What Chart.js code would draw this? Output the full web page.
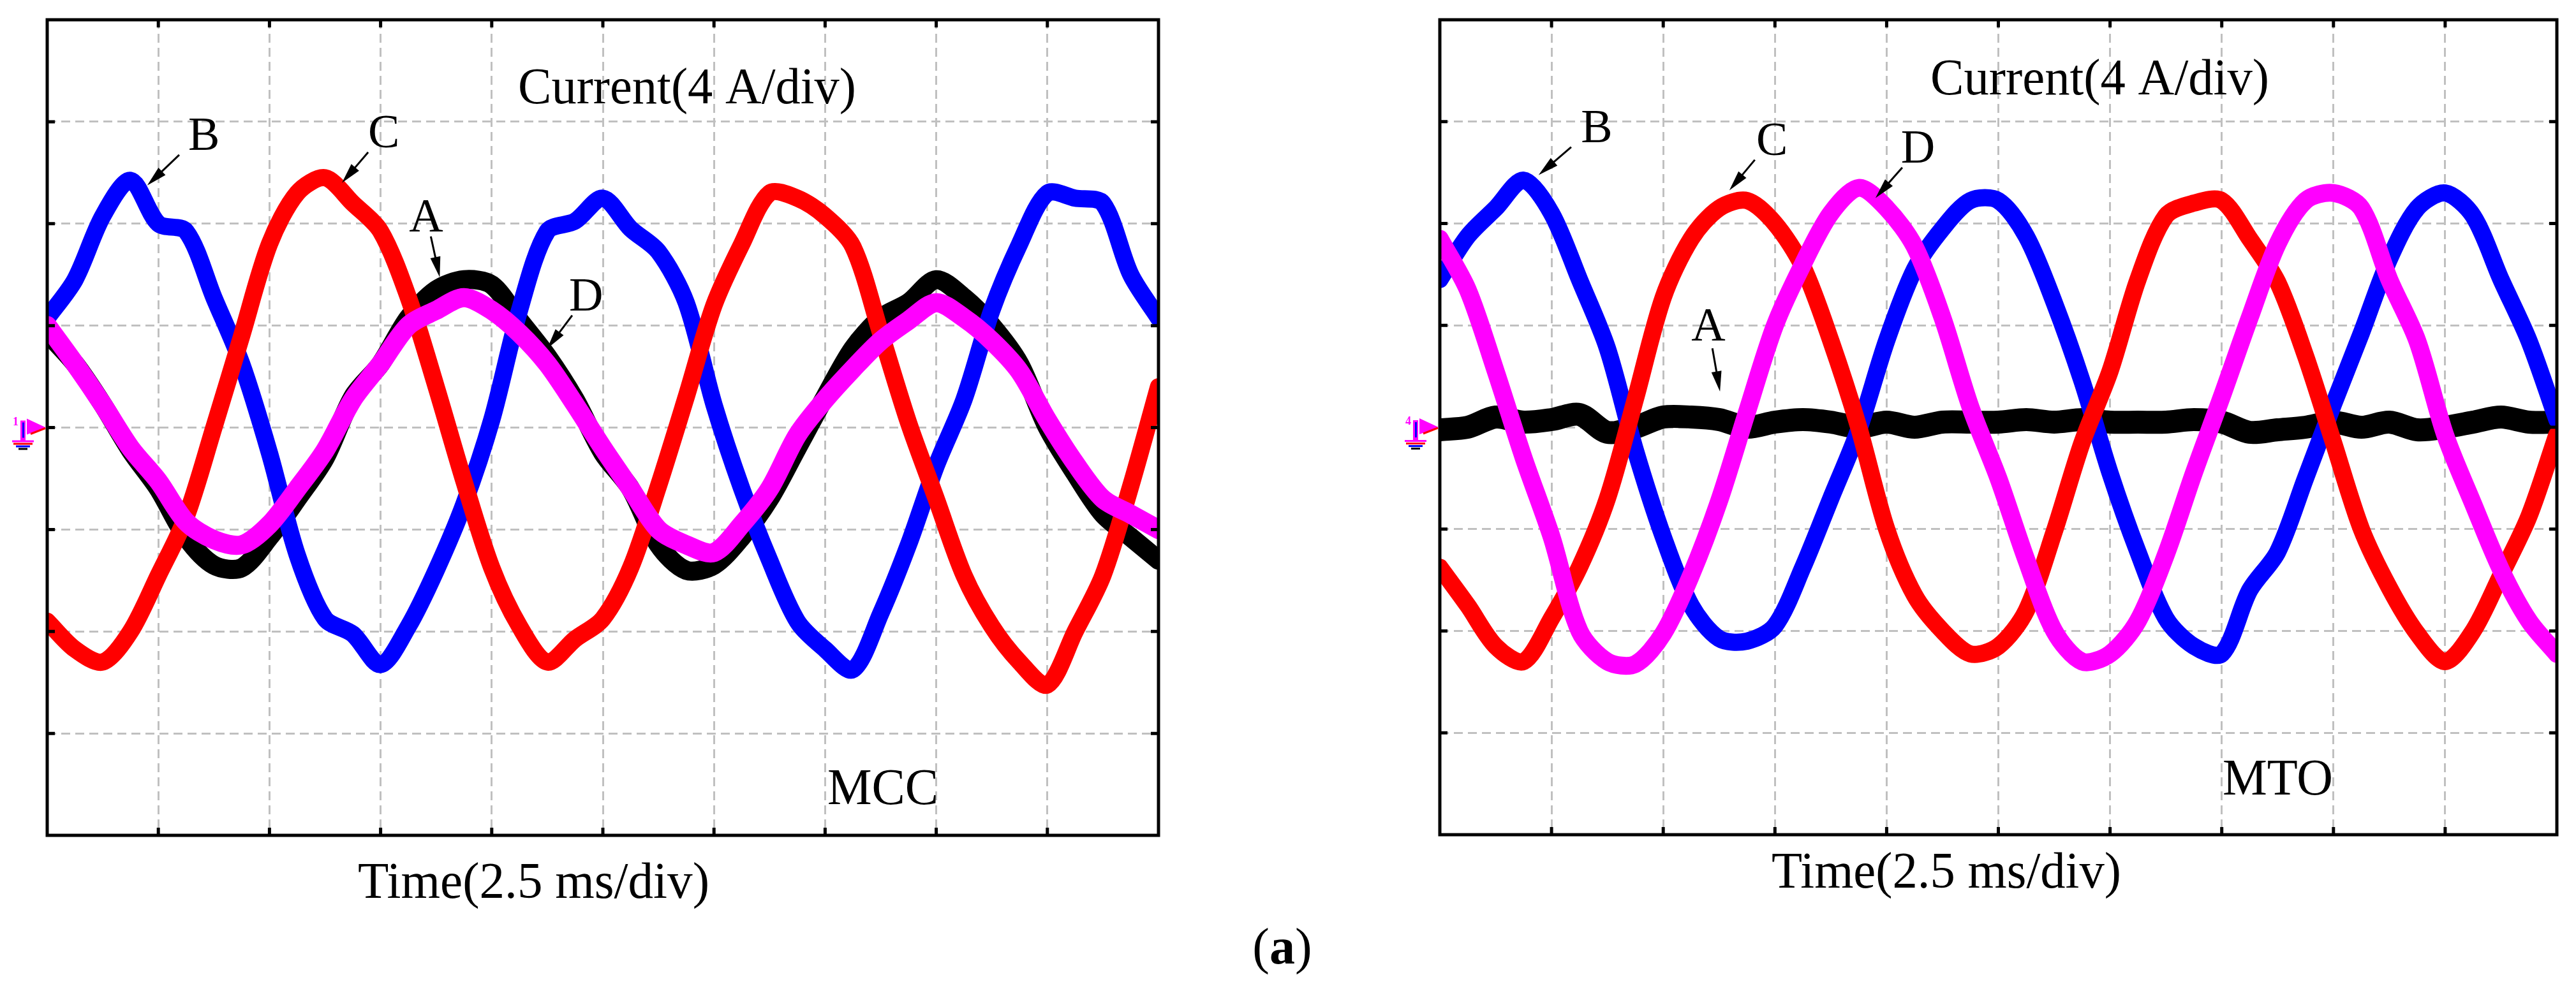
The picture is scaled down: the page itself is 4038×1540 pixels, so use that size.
<!DOCTYPE html>
<html>
<head>
<meta charset="utf-8">
<script src="https://cdn.jsdelivr.net/npm/chart.js@4.4.1/dist/chart.umd.min.js"></script>
<style>
  html, body { margin: 0; padding: 0; background: #fff; }
  #wrap { position: relative; width: 4038px; height: 1540px; overflow: hidden; background: #fff; }
  #wrap canvas { position: absolute; left: 0; top: 0; }
  #caption { position: absolute; left: 1910px; width: 200px; top: 1444px; text-align: center;
             font: 80px "Liberation Serif", "Times New Roman", serif; line-height: 1; color: #000; }
</style>
</head>
<body>
<div id="wrap">
  <canvas id="mccChart" width="4038" height="1540"></canvas>
  <canvas id="mtoChart" width="4038" height="1540"></canvas>
  <div id="caption">(<b>a</b>)</div>
</div>
<script>
"use strict";

// time axis, ms (2.5 ms/div, 10 div)
const timeMs = [0, 0.625, 1.25, 1.875, 2.5, 3.125, 3.75, 4.375, 5, 5.625, 6.25, 6.875, 7.5,
    8.125, 8.75, 9.375, 10, 10.625, 11.25, 11.875, 12.5, 13.125, 13.75, 14.375, 15, 15.625,
    16.25, 16.875, 17.5, 18.125, 18.75, 19.375, 20, 20.625, 21.25, 21.875, 22.5, 23.125,
    23.75, 24.375, 25];

// current ticks, A (4 A/div)
const currentTicks = [-16, -12, -8, -4, 0, 4, 8, 12, 16];

// MCC phase currents, A
const mccA = [3.7, 2.5, 0.9, -0.9, -2.4, -4.3, -5.4, -5.5, -4.3, -2.8, -1.2, 1.2, 2.5, 4.3, 5.4,
    5.8, 5.6, 4.2, 2.8, 1.1, -1.0, -2.4, -4.6, -5.6, -5.4, -4.3, -2.8, -0.8, 1.2, 3.1, 4.3, 4.9,
    5.8, 5.1, 4.0, 2.5, 0.0, -1.8, -3.4, -4.3, -5.2];
const mccB = [4.3, 5.8, 8.3, 9.7, 8.0, 7.7, 5.1, 2.5, -1.0, -5.0, -7.5, -8.1, -9.3, -7.8, -5.6,
    -3.0, 0.3, 4.6, 7.7, 8.1, 9.0, 7.8, 6.9, 4.9, 0.9, -2.4, -5.2, -7.6, -8.7, -9.5, -7.3, -4.6,
    -1.5, 1.1, 4.6, 7.2, 9.2, 9.0, 8.8, 6.0, 4.3];
const mccC = [-7.6, -8.7, -9.2, -8.0, -5.8, -3.5, 0.0, 3.6, 7.2, 9.2, 9.8, 8.8, 7.7, 5.1, 1.6,
    -2.1, -5.5, -7.8, -9.2, -8.3, -7.5, -5.5, -2.3, 1.2, 4.8, 7.2, 9.2, 9.0, 8.3, 7.1, 3.7, 0.2,
    -2.8, -5.8, -7.8, -9.2, -10.1, -8.0, -5.8, -2.3, 1.6];
const mccD = [4.0, 2.5, 0.9, -0.8, -2.1, -3.7, -4.4, -4.6, -3.8, -2.4, -0.9, 1.1, 2.5, 4.0, 4.6,
    5.1, 4.6, 3.7, 2.5, 0.9, -0.8, -2.4, -4.0, -4.6, -4.9, -3.8, -2.4, -0.3, 1.1, 2.3, 3.4, 4.2,
    4.9, 4.3, 3.4, 2.2, 0.3, -1.4, -2.8, -3.4, -4.0];

// MTO phase currents, A
const mtoA = [-0.1, 0.0, 0.4, 0.2, 0.3, 0.5, -0.2, 0.0, 0.4, 0.4, 0.3, 0.0, 0.2, 0.3, 0.2, 0.0,
    0.2, 0.0, 0.2, 0.2, 0.2, 0.3, 0.2, 0.3, 0.2, 0.2, 0.2, 0.3, 0.2, -0.2, -0.1, 0.0, 0.2, 0.0,
    0.2, -0.1, 0.0, 0.2, 0.4, 0.2, 0.2];
const mtoB = [5.8, 7.5, 8.6, 9.7, 8.4, 5.8, 3.1, -0.9, -4.3, -7.0, -8.3, -8.4, -7.8, -5.5, -2.8,
    -0.1, 3.4, 6.2, 7.8, 8.9, 8.9, 7.5, 4.9, 1.8, -1.8, -4.9, -7.5, -8.6, -8.9, -6.4, -4.9, -2.0,
    0.9, 3.7, 6.6, 8.6, 9.2, 8.3, 5.8, 3.4, 0.3];
const mtoC = [-5.5, -7.0, -8.6, -9.2, -7.5, -5.5, -2.8, 1.1, 5.1, 7.4, 8.6, 8.9, 8.0, 6.3, 3.4,
    0.0, -4.0, -6.6, -8.0, -8.9, -8.6, -7.2, -4.1, -0.6, 2.2, 5.8, 8.3, 8.8, 8.9, 7.4, 5.7, 2.8,
    -0.6, -4.0, -6.3, -8.1, -9.2, -8.0, -5.8, -3.5, -0.3];
const mtoD = [7.4, 5.4, 2.2, -1.2, -4.3, -8.0, -9.2, -9.3, -8.1, -5.8, -2.9, 0.6, 4.0, 6.4, 8.4,
    9.4, 8.6, 7.1, 4.3, 0.8, -2.0, -5.2, -8.0, -9.2, -8.9, -7.6, -5.0, -1.8, 1.2, 4.3, 7.2, 8.9,
    9.2, 8.6, 5.8, 3.4, -0.3, -3.0, -5.6, -7.6, -8.9];

const SERIF = '"Liberation Serif", "Times New Roman", serif';

const toPoints = (vals) => vals.map((v, i) => ({x: timeMs[i], y: v}));

const trace = (label, vals, color, width, order) => ({
    label: label,
    data: toPoints(vals),
    borderColor: color,
    backgroundColor: color,
    borderWidth: width,
    pointRadius: 0,
    tension: 0.3,
    borderJoinStyle: 'round',
    borderCapStyle: 'round',
    clip: 0,
    order: order
});

const drawArrow = (ctx, x1, y1, x2, y2) => {
    const ang = Math.atan2(y2 - y1, x2 - x1);
    const len = 32, half = 8;
    ctx.beginPath();
    ctx.moveTo(x1, y1);
    ctx.lineTo(x2 - Math.cos(ang) * len * 0.8, y2 - Math.sin(ang) * len * 0.8);
    ctx.stroke();
    ctx.beginPath();
    ctx.moveTo(x2, y2);
    ctx.lineTo(x2 - Math.cos(ang) * len - Math.sin(ang) * half, y2 - Math.sin(ang) * len + Math.cos(ang) * half);
    ctx.lineTo(x2 - Math.cos(ang) * len + Math.sin(ang) * half, y2 - Math.sin(ang) * len - Math.cos(ang) * half);
    ctx.closePath();
    ctx.fill();
};

// frame, inner tick marks, ground marker, labels and arrows
const scopeDecor = {
    id: 'scopeDecor',
    afterDatasetsDraw(chart, args, opts) {
        const {ctx, chartArea: a, scales: {x, y}} = chart;
        ctx.save();
        ctx.strokeStyle = '#000';
        ctx.fillStyle = '#000';
        ctx.lineWidth = 5;
        ctx.lineCap = 'butt';

        ctx.beginPath();
        x.ticks.forEach(t => {
            const px = x.getPixelForValue(t.value);
            if (px <= a.left + 2 || px >= a.right - 2) {
                return;
            }
            ctx.moveTo(px, a.top); ctx.lineTo(px, a.top + 12);
            ctx.moveTo(px, a.bottom); ctx.lineTo(px, a.bottom - 12);
        });
        y.ticks.forEach(t => {
            const py = y.getPixelForValue(t.value);
            if (py <= a.top + 2 || py >= a.bottom - 2) {
                return;
            }
            ctx.moveTo(a.left, py); ctx.lineTo(a.left + 12, py);
            ctx.moveTo(a.right, py); ctx.lineTo(a.right - 12, py);
        });
        ctx.stroke();
        ctx.strokeRect(a.left, a.top, a.right - a.left, a.bottom - a.top);

        // channel ground marker
        const gx = a.left, gy = y.getPixelForValue(0);
        ctx.fillStyle = '#ff00ff';
        ctx.beginPath();
        ctx.moveTo(gx - 32, gy - 14);
        ctx.lineTo(gx - 2, gy);
        ctx.lineTo(gx - 32, gy + 11);
        ctx.closePath();
        ctx.fill();
        ctx.strokeStyle = '#ff0000';
        ctx.lineWidth = 3;
        ctx.beginPath();
        ctx.moveTo(gx - 26, gy + 10);
        ctx.lineTo(gx - 3, gy + 1);
        ctx.stroke();
        ctx.fillStyle = '#ff00ff';
        ctx.fillRect(gx - 42, gy - 11, 8, 32);
        ctx.fillStyle = '#0000ff';
        ctx.fillRect(gx - 39, gy - 8, 3, 24);
        [['#ff00ff', 34, 20], ['#ff0000', 30, 24], ['#0000ff', 22, 28], ['#000', 14, 32]].forEach(g => {
            ctx.fillStyle = g[0];
            ctx.fillRect(gx - 38 - g[1] / 2, gy + g[2], g[1], 3);
        });
        ctx.fillStyle = '#ff00ff';
        ctx.font = 'bold 18px ' + SERIF;
        ctx.fillText(opts.channel, gx - 54, gy - 4);

        // axis texts
        ctx.fillStyle = '#000';
        ctx.textBaseline = 'alphabetic';
        ctx.textAlign = 'left';
        ctx.font = '80px ' + SERIF;
        opts.texts.forEach(t => ctx.fillText(t.text, t.px, t.py, t.maxWidth));

        // trace labels with arrows
        ctx.font = '74px ' + SERIF;
        ctx.lineWidth = 3;
        ctx.strokeStyle = '#000';
        opts.labels.forEach(l => {
            ctx.fillText(l.text, x.getPixelForValue(l.x), y.getPixelForValue(l.y));
            drawArrow(ctx, x.getPixelForValue(l.from[0]), y.getPixelForValue(l.from[1]),
                x.getPixelForValue(l.to[0]), y.getPixelForValue(l.to[1]));
        });
        ctx.restore();
    }
};

const buildChart = (canvasId, datasets, padding, decor) => {
    return new Chart(document.getElementById(canvasId), {
        type: 'line',
        data: {datasets: datasets},
        options: {
            responsive: false,
            animation: false,
            devicePixelRatio: 1,
            layout: {padding: padding},
            plugins: {
                legend: {display: false},
                tooltip: {enabled: false},
                scopeDecor: decor
            },
            scales: {
                x: {
                    type: 'linear',
                    min: 0,
                    max: 25,
                    ticks: {display: false, stepSize: 2.5},
                    grid: {color: '#c0c0c0', lineWidth: 3, drawTicks: false},
                    border: {display: false, dash: [14, 8]}
                },
                y: {
                    type: 'linear',
                    min: currentTicks[0],
                    max: currentTicks[currentTicks.length - 1],
                    ticks: {display: false, stepSize: 4},
                    grid: {color: '#c0c0c0', lineWidth: 3, drawTicks: false},
                    border: {display: false, dash: [14, 8]}
                }
            }
        },
        plugins: [scopeDecor]
    });
};

buildChart('mccChart', [
    trace('D', mccD, '#ff00ff', 30, 0),
    trace('C', mccC, '#ff0000', 27, 1),
    trace('B', mccB, '#0000ff', 27, 2),
    trace('A', mccA, '#000000', 30, 3)
], {left: 74, top: 31, right: 2222, bottom: 230}, {
    channel: '1',
    texts: [
        {text: 'Current(4 A/div)', px: 812, py: 162, maxWidth: 530},
        {text: 'Time(2.5 ms/div)', px: 561, py: 1408, maxWidth: 551},
        {text: 'MCC', px: 1297, py: 1261, maxWidth: 174}
    ],
    labels: [
        {text: 'B', x: 3.17, y: 10.9, from: [2.97, 10.7], to: [2.25, 9.5]},
        {text: 'C', x: 7.22, y: 11.0, from: [7.22, 10.8], to: [6.63, 9.6]},
        {text: 'A', x: 8.14, y: 7.7, from: [8.63, 7.5], to: [8.83, 5.9]},
        {text: 'D', x: 11.74, y: 4.6, from: [11.81, 4.4], to: [11.25, 3.1]}
    ]
});

buildChart('mtoChart', [
    trace('D', mtoD, '#ff00ff', 28, 0),
    trace('C', mtoC, '#ff0000', 27, 1),
    trace('B', mtoB, '#0000ff', 27, 2),
    trace('A', mtoA, '#000000', 36, 3)
], {left: 2257, top: 31, right: 30, bottom: 231}, {
    channel: '4',
    texts: [
        {text: 'Current(4 A/div)', px: 3026, py: 148, maxWidth: 531},
        {text: 'Time(2.5 ms/div)', px: 2777, py: 1392, maxWidth: 548},
        {text: 'MTO', px: 3484, py: 1246, maxWidth: 173}
    ],
    labels: [
        {text: 'B', x: 3.16, y: 11.2, from: [2.94, 11.0], to: [2.21, 9.9]},
        {text: 'C', x: 7.08, y: 10.7, from: [7.05, 10.5], to: [6.48, 9.3]},
        {text: 'D', x: 10.32, y: 10.4, from: [10.35, 10.2], to: [9.75, 9.0]},
        {text: 'A', x: 5.63, y: 3.4, from: [6.10, 3.1], to: [6.27, 1.4]}
    ]
});
</script>
</body>
</html>
